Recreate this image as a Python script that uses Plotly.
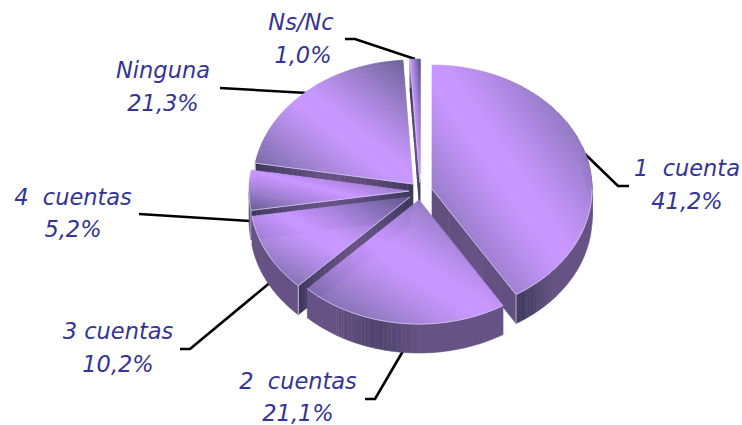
import math
import plotly.graph_objects as go

# ---- data ----
categories = ["1\u00a0\u00a0cuenta", "2\u00a0\u00a0cuentas", "3 cuentas", "4\u00a0\u00a0cuentas", "Ninguna", "Ns/Nc"]
values = [41.2, 21.1, 10.2, 5.2, 21.3, 1.0]

# ---- layout / style ----
W, H = 742, 425
RX, RY, DEPTH = 160, 124, 29
apex = [(432, 189), (419, 200), (410, 197), (409, 191), (413, 184), (420, 183)]
paint_order = [4, 5, 3, 2, 0, 1]
cat_pos = [(687, 170), (298, 383), (118, 333), (73, 199), (163, 72), (301, 24)]
pct_pos = [(687, 203), (298, 415), (118, 366), (73, 231), (163, 105), (303, 57)]
leaders = [
    [(585, 154), (618, 186), (629, 186)],
    [(403, 351), (375, 399), (365, 399)],
    [(272, 281), (190, 349), (180, 349)],
    [(250, 221), (139, 214)],
    [(307, 93), (220, 88)],
    [(415, 59), (355, 39), (345, 39)],
]
LIGHT, DARK = (200, 150, 255), (95, 90, 140)
WALL, WALL_DK = (102, 82, 132), (60, 56, 90)
EDGE = "#cfc2e6"
TEXT = "#333399"
FONT = "DejaVu Sans"
FS = 22.5
TOP_LEVELS = 64
WALL_LEVELS = 24


def mix(c1, c2, f):
    f = max(0.0, min(1.0, f))
    return "#%02x%02x%02x" % tuple(round(a + (b - a) * f) for a, b in zip(c1, c2))


def pt(c, t, r=1.0):
    return (c[0] + r * RX * math.sin(t), c[1] - r * RY * math.cos(t))


fig = go.Figure()


def add_poly(poly, col):
    xs = [p[0] for p in poly] + [poly[0][0]]
    ys = [p[1] for p in poly] + [poly[0][1]]
    fig.add_trace(go.Scatter(x=xs, y=ys, mode="lines", fill="toself", fillcolor=col,
                             line=dict(color=col, width=0.6, simplify=False),
                             hoverinfo="skip", showlegend=False))


def edge(points, width=0.9, color=EDGE):
    fig.add_trace(go.Scatter(x=[p[0] for p in points], y=[p[1] for p in points], mode="lines",
                             line=dict(color=color, width=width, simplify=False),
                             hoverinfo="skip", showlegend=False))


def wall(top_points, shade):
    """extrude a polyline downward; neighbouring segments of one colour become one polygon"""
    n = len(top_points) - 1

    def col_at(i):
        return mix(WALL, WALL_DK, round(shade((i + 0.5) / n) * WALL_LEVELS) / WALL_LEVELS)

    i = 0
    while i < n:
        col = col_at(i)
        j = i + 1
        while j < n and col_at(j) == col:
            j += 1
        run = top_points[i:j + 1]
        add_poly(run + [(x, y + DEPTH) for x, y in reversed(run)], col)
        i = j


def clip(poly, a, b, limit):
    """keep the part of a convex polygon with a*x + b*y <= limit"""
    out = []
    for k in range(len(poly)):
        p, q = poly[k], poly[(k + 1) % len(poly)]
        dp, dq = a * p[0] + b * p[1] - limit, a * q[0] + b * q[1] - limit
        if dp <= 0:
            out.append(p)
        if dp * dq < 0:
            s = dp / (dp - dq)
            out.append((p[0] + (q[0] - p[0]) * s, p[1] + (q[1] - p[1]) * s))
    return out


def top_colour(u):
    f = max(0.0, (abs(u) - 0.06) / 0.94) ** 1.15
    return mix(LIGHT, DARK, round(f * TOP_LEVELS) / TOP_LEVELS)


total = sum(values)
bounds = []
acc = 0.0
for v in values:
    bounds.append((acc / total * 2 * math.pi, (acc + v) / total * 2 * math.pi))
    acc += v

for idx in paint_order:
    c = apex[idx]
    t0, t1 = bounds[idx]
    rim_n = max(4, int((t1 - t0) / math.radians(1.0)))
    rim = [pt(c, t0 + (t1 - t0) * i / rim_n) for i in range(rim_n + 1)]

    # which cut face looks towards the viewer
    start_visible = math.pi < t0 < 2 * math.pi
    end_visible = 0 < t1 < math.pi

    def line_pts(b, n=30):
        return [(c[0] + (b[0] - c[0]) * k / n, c[1] + (b[1] - c[1]) * k / n) for k in range(n + 1)]

    if start_visible:
        wall(line_pts(rim[0]), lambda s: abs(2 * s - 1) ** 1.5)
    if end_visible:
        wall(line_pts(rim[-1]), lambda s: 0.1 * abs(2 * s - 1))

    # outer wall (front half only)
    front_idx = [i for i in range(rim_n + 1)
                 if math.pi / 2 - 0.35 <= t0 + (t1 - t0) * i / rim_n <= 3 * math.pi / 2]
    if len(front_idx) > 1:
        pts = [rim[i] for i in front_idx]

        def outer(s, idx=idx):
            if idx == 0:
                return max(0.95 * max(0.0, (s - 0.74) / 0.26) ** 1.2, 0.55 * max(0.0, (0.3 - s) / 0.3))
            if idx == 1:
                return 0.55 * max(0.0, 1 - abs(s - 0.62) / 0.22)
            return 0.0

        wall(pts, outer)

    # top face: a diagonal gradient across the slice's bounding box, as clipped bands
    outline = [c] + rim
    xs = [p[0] for p in outline]
    ys = [p[1] for p in outline]
    x0, x1, y0, y1 = min(xs), max(xs), min(ys), max(ys)
    xc, yc, hw, hh = (x0 + x1) / 2, (y0 + y1) / 2, (x1 - x0) / 2, (y1 - y0) / 2
    a, b = 1 / (2 * hw), -1 / (2 * hh)
    offset = a * xc + b * yc
    bands = 300
    k = 0
    while k < bands:
        um = lambda q: -1 + 2 * (q + 0.5) / bands
        col = top_colour(um(k))
        j = k + 1
        while j < bands and top_colour(um(j)) == col:
            j += 1
        u0, u1 = -1 + 2 * k / bands, -1 + 2 * j / bands
        band = clip(outline, a, b, u1 + offset)
        if len(band) >= 3:
            band = clip(band, -a, -b, -(u0 + offset))
        if len(band) >= 3:
            add_poly(band, col)
        k = j

    # pale highlight lines where the faces meet
    front = [pt(c, t0 + (t1 - t0) * i / rim_n) for i in range(rim_n + 1)
             if math.pi / 2 <= t0 + (t1 - t0) * i / rim_n <= 3 * math.pi / 2]
    if front:
        edge(front)
    if start_visible:
        edge([c, rim[0], (rim[0][0], rim[0][1] + DEPTH)])
    if end_visible:
        edge([c, rim[-1], (rim[-1][0], rim[-1][1] + DEPTH)])

# labels
common = dict(mode="text", textposition="middle center", cliponaxis=False,
              textfont=dict(family=FONT, size=FS, color=TEXT, style="italic"),
              hoverinfo="skip", showlegend=False)
fig.add_trace(go.Scatter(x=[p[0] for p in cat_pos], y=[p[1] for p in cat_pos], text=categories, **common))
pct_text = [f"{v:.1f}".replace(".", ",") + "%" for v in values]
fig.add_trace(go.Scatter(x=[p[0] for p in pct_pos], y=[p[1] for p in pct_pos], text=pct_text, **common))

shapes = []
for pts in leaders:
    path = "M " + " L ".join(f"{x},{y}" for x, y in pts)
    shapes.append(dict(type="path", path=path, xref="x", yref="y", layer="below",
                       line=dict(color="black", width=2.6)))

fig.update_layout(
    width=W, height=H, margin=dict(l=0, r=0, t=0, b=0),
    paper_bgcolor="white", plot_bgcolor="white", showlegend=False, shapes=shapes,
    xaxis=dict(range=[0, W], visible=False, fixedrange=True),
    yaxis=dict(range=[H, 0], visible=False, fixedrange=True),
)
fig.write_html("out.html", config=dict(displayModeBar=False),
               post_script="document.body.style.margin='0';document.body.style.overflow='hidden';")
